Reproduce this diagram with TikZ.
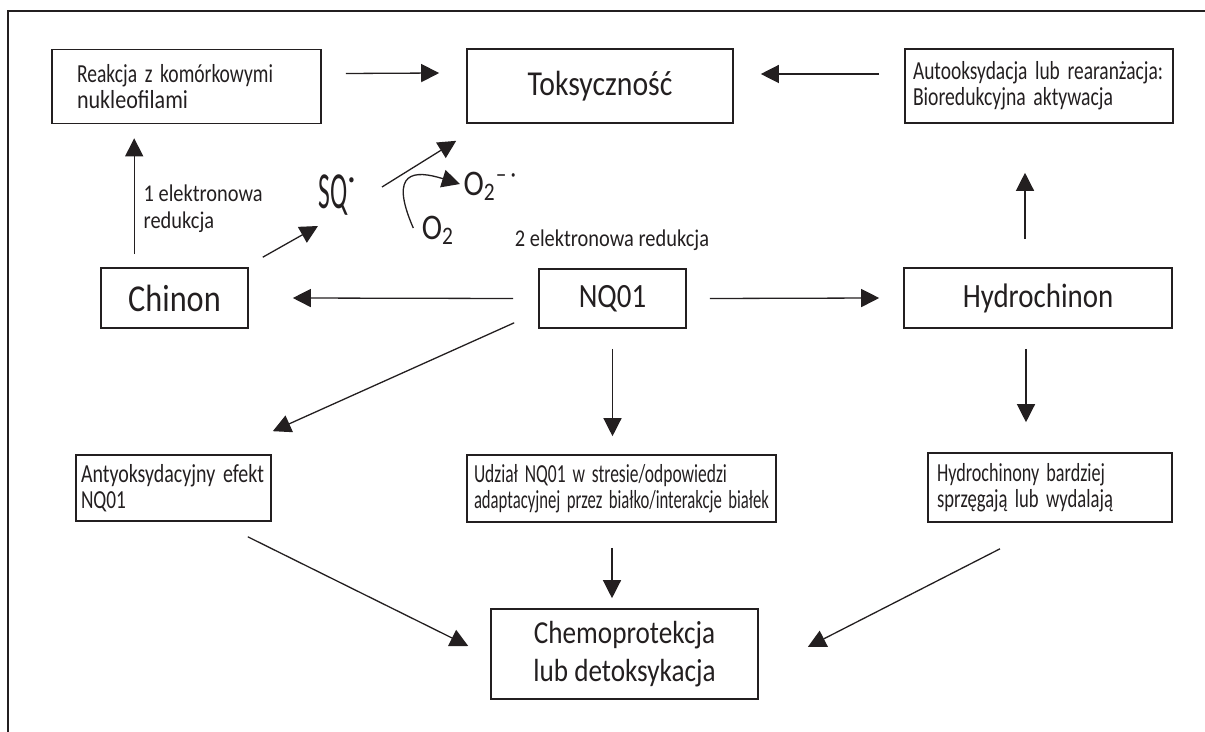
\documentclass[tikz,border=0pt]{standalone}
\usepackage{fontspec}
\usepackage{graphicx}
\setmainfont{Carlito}[FakeStretch=0.85]
\newcommand\linia[2]{\resizebox{#1}{\height}{#2}}
\usetikzlibrary{arrows.meta,calc}
\definecolor{ink}{HTML}{231F20}

\begin{document}
\begin{tikzpicture}[x=0.5pt,y=-0.5pt,-{Triangle[length=9pt,width=9pt]},line width=0.65pt,color=ink]
	\tikzstyle{box}    = [rectangle,draw,line width=0.8pt,inner sep=0pt]
	\tikzstyle{bigbox} = [box,font=\fontsize{19}{22}\selectfont]
	\tikzstyle{txtbox} = [box,align=left,font=\fontsize{13}{13}\selectfont]
	\tikzstyle{txt}    = [inner sep=0pt,font=\fontsize{12}{13.5}\selectfont]
	
	\useasboundingbox (0,0) rectangle (1205,732);
	\draw[-,line width=0.7pt] (8,732) -- (8,11) -- (1205,11);
	
	% gorny rzad
	\node[txtbox,minimum height=37pt,inner xsep=12.5pt,text width=109.5pt] (reakcja) at (186.5,86.5) {\linia{98pt}{Reakcja z komórkowymi}\\\linia{55.5pt}{nukleofilami}};
	\node[bigbox,font=\fontsize{17.5}{20}\selectfont,minimum width=133pt,minimum height=37pt] (toksycznosc) at (600,86) {Toksyczność};
	\node[txtbox,minimum height=37pt,inner xsep=4pt,text width=126pt] (autooks) at (1039,86) {\linia{125pt}{Autooksydacja lub rearanżacja:}\\\linia{100pt}{Bioredukcyjna aktywacja}};
	
	% srodkowy rzad
	\node[bigbox,minimum width=73.5pt,minimum height=30pt] (chinon) at (174.5,298) {Chinon};
	\node[bigbox,font=\fontsize{17}{20}\selectfont,minimum width=73.5pt,minimum height=29.5pt] (nq01) at (612.5,298.5) {NQ01};
	\node[bigbox,font=\fontsize{17}{20}\selectfont,minimum width=134pt,minimum height=30pt] (hydrochinon) at (1038,298) {Hydrochinon};
	
	% dolny rzad
	\node[txtbox,minimum height=33pt,inner xsep=2.5pt,text width=92.5pt] (antyoks) at (173.5,488) {\linia{91.5pt}{Antyoksydacyjny efekt}\\\linia{22.5pt}{NQ01}};
	\node[txtbox,minimum height=33.5pt,inner xsep=3.5pt,text width=147.5pt] (udzial) at (621.5,488.5) {\linia{126.5pt}{Udział NQ01 w stresie/odpowiedzi}\\\linia{147.5pt}{adaptacyjnej przez białko/interakcje białek}};
	\node[txtbox,minimum height=34.5pt,inner xsep=4.5pt,text width=113pt] (hydrochinony) at (1050,487.5) {\linia{84pt}{Hydrochinony bardziej}\\\linia{88pt}{sprzęgają lub wydalają}};
	\node[bigbox,align=center,font=\fontsize{16}{19}\selectfont,minimum width=133.5pt,minimum height=45pt] (chemo) at (624.5,654) {Chemoprotekcja\\lub detoksykacja};
	
	% etykiety
	\node[txt,anchor=west,align=left] (red1) at (143,209) {1 elektronowa\\redukcja};
	\node[txt] (red2) at (612,240) {2 elektronowa redukcja};
	\node[inner sep=0pt,anchor=west,font=\fontsize{26}{28}\selectfont] (sq) at (318,195) {\linia{14.5pt}{SQ}\textsuperscript{·}};
	\node[inner sep=0pt,font=\fontsize{18}{20}\selectfont,anchor=west] (o2rod) at (463,186) {O\textsubscript{2}\textsuperscript{–\,·}};
	\node[inner sep=0pt,font=\fontsize{18}{20}\selectfont] (o2) at (438,230) {O\textsubscript{2}};
	
	\path ($(reakcja.east)+(24,-13)$) edge ($(toksycznosc.west)+(-27,-13)$);
	\path ($(autooks.west)+(-25,-12)$) edge ($(toksycznosc.east)+(27,-12)$);
	\path ($(chinon.north west)+(34,-13)$) edge ($(reakcja.south west)+(83,14)$);
	\path ($(chinon.north east)+(14,-10)$) edge ($(sq.west)+(0,31)$);
	\path ($(sq.west)+(64,-8)$) edge ($(toksycznosc.south west)+(-10,17)$);
	\draw ($(o2.west)+(-8,-2)$) .. controls (388,170) and (415,170) .. ($(o2rod.west)+(-3,-2)$);
	
	\path ($(nq01.west)+(-25,0)$) edge ($(chinon.east)+(44,0)$);
	\path ($(nq01.east)+(23,0)$) edge ($(hydrochinon.west)+(-24,0)$);
	\path ($(hydrochinon.north)+(-13,-28)$) edge ($(autooks.south)+(-14,49)$);
	\path ($(hydrochinon.south)+(-12,20)$) edge ($(hydrochinony.north)+(-24,-30)$);
	\path ($(nq01.south west)+(-24,-6)$) edge ($(antyoks.north east)+(1,-23)$);
	\path ($(nq01.south)+(0,20)$) edge ($(udzial.north)+(-9,-18)$);
	
	\path ($(antyoks.south east)+(-24,15)$) edge ($(chemo.west)+(-22,-8)$);
	\path ($(udzial.south)+(-9.5,25)$) edge ($(chemo.north)+(-12.5,-10)$);
	\path ($(hydrochinony.south)+(-50,26)$) edge ($(chemo.east)+(49,-7)$);
\end{tikzpicture}
\end{document}
